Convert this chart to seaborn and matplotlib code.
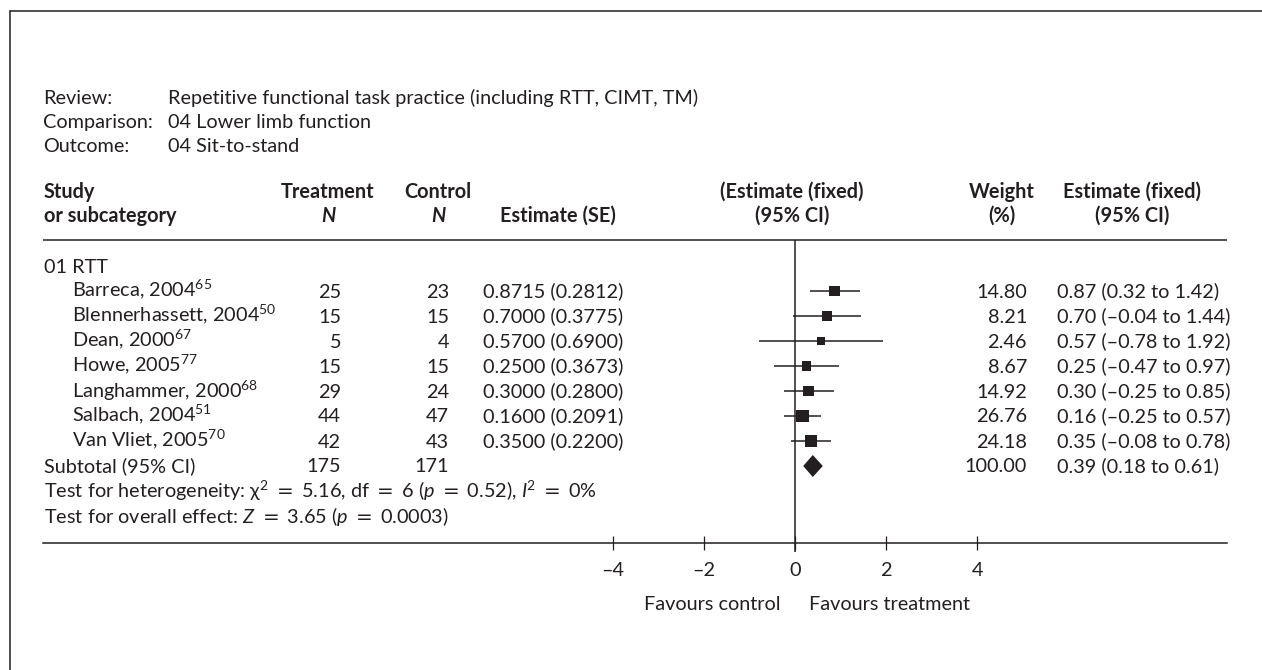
import numpy as np
import pandas as pd
import matplotlib
matplotlib.use("Agg")
import matplotlib.pyplot as plt
from matplotlib.lines import Line2D
import seaborn as sns

# ---------- data ----------
studies = ["Barreca, 2004", "Blennerhassett, 2004", "Dean, 2000", "Howe, 2005",
           "Langhammer, 2000", "Salbach, 2004", "Van Vliet, 2005"]
refs = ["65", "50", "67", "77", "68", "51", "70"]
n_treat = [25, 15, 5, 15, 29, 44, 42]
n_ctrl = [23, 15, 4, 15, 24, 47, 43]
estimate = [0.8715, 0.7000, 0.5700, 0.2500, 0.3000, 0.1600, 0.3500]
se = [0.2812, 0.3775, 0.6900, 0.3673, 0.2800, 0.2091, 0.2200]
weight = [14.80, 8.21, 2.46, 8.67, 14.92, 26.76, 24.18]
ci_low = [0.32, -0.04, -0.78, -0.47, -0.25, -0.25, -0.08]
ci_high = [1.42, 1.44, 1.92, 0.97, 0.85, 0.57, 0.78]

subtotal_n = [175, 171]
subtotal_est = 0.39
subtotal_ci = [0.18, 0.61]
subtotal_weight = 100.00

x_ticks = [-4, -2, 0, 2, 4]
x_tick_labels = ["–4", "–2", "0", "2", "4"]

# ---------- settings ----------
sns.set_theme(style="white")
INK = "#231f20"
FS = 14.3
plt.rcParams["font.family"] = ["Lato", "DejaVu Sans"]
plt.rcParams["mathtext.fontset"] = "custom"
plt.rcParams["mathtext.rm"] = "DejaVu Sans"
plt.rcParams["mathtext.it"] = "Lato:italic"
plt.rcParams["mathtext.bf"] = "Lato:bold"
plt.rcParams["mathtext.default"] = "rm"
plt.rcParams["text.color"] = INK

W, H = 1262, 670
X0_PX, UNIT_PX = 795, 45.6      # pixel of effect 0, pixels per unit
ROW0_PX, ROW_PX = 266, 25       # pixel of first row, row spacing
BASE = 0.26                     # baseline offset (rows)


def fx(px):
    return (px - X0_PX) / UNIT_PX


def fy(px):
    return (px - ROW0_PX) / ROW_PX


fig = plt.figure(figsize=(W / 100, H / 100), dpi=100)
ax = fig.add_axes([0, 0, 1, 1])
ax.set_facecolor("white")

df = pd.DataFrame({
    "study": studies, "estimate": estimate, "weight": weight,
    "lo": ci_low, "hi": ci_high, "row": np.arange(1, len(studies) + 1),
})

# CI lines and squares
ax.hlines(df["row"], df["lo"], df["hi"], color=INK, lw=1.1, zorder=2)
sns.scatterplot(data=df, x="estimate", y="row", size="weight", sizes=(38, 82),
                marker="s", color=INK, edgecolor=INK, linewidth=0,
                legend=False, ax=ax, zorder=3)

# subtotal diamond
sub_row = len(studies) + 1
h = 0.44
ax.fill([subtotal_ci[0], subtotal_est, subtotal_ci[1], subtotal_est],
        [sub_row, sub_row - h, sub_row, sub_row + h], color=INK, lw=0, zorder=3)

# axis geometry
ax.set_xlim(fx(0), fx(W))
ax.set_ylim(fy(H), fy(0))
ax.set_xlabel("")
ax.set_ylabel("")
ax.set_yticks([])
for s in ["top", "left", "right"]:
    ax.spines[s].set_visible(False)
ax.spines["bottom"].set_position(("data", fy(543)))
ax.spines["bottom"].set_bounds(fx(43), fx(1227))
ax.spines["bottom"].set_color(INK)
ax.spines["bottom"].set_linewidth(1.1)
ax.set_xticks(x_ticks)
ax.set_xticklabels(x_tick_labels, fontsize=FS)
ax.tick_params(axis="x", direction="inout", length=10, width=0.9, color=INK,
               pad=8.5, labelcolor=INK, bottom=True)

ax.vlines(0, fy(240), fy(552), color=INK, lw=1.1)
ax.hlines(fy(240), fx(43), fx(1227), color=INK, lw=1.1)

# ---------- text ----------
def put(px_x, px_y, s, ha="left", **kw):
    ax.text(fx(px_x), fy(px_y) + BASE, s, ha=ha, va="baseline", fontsize=FS, **kw)


def sup(s):
    return "$^{\\mathregular{" + s + "}}$"


put(43, 97, "Review:")
put(168, 97, "Repetitive functional task practice (including RTT, CIMT, TM)")
put(43, 121, "Comparison:")
put(168, 121, "04 Lower limb function")
put(43, 145, "Outcome:")
put(168, 145, "04 Sit-to-stand")

bold = dict(fontweight="bold")
put(44, 191, "Study", **bold)
put(44, 215, "or subcategory", **bold)
put(328, 191, "Treatment", ha="center", **bold)
put(328, 215, "N", ha="center", fontstyle="italic", **bold)
put(438, 191, "Control", ha="center", **bold)
put(438, 215, "N", ha="center", fontstyle="italic", **bold)
put(558, 215, "Estimate (SE)", ha="center", **bold)
put(792, 191, "(Estimate (fixed)", ha="center", **bold)
put(792, 215, "(95% CI)", ha="center", **bold)
put(1002, 191, "Weight", ha="center", **bold)
put(1002, 215, "(%)", ha="center", **bold)
put(1132, 191, "Estimate (fixed)", ha="center", **bold)
put(1132, 215, "(95% CI)", ha="center", **bold)


def dash(v, fmt):
    return format(v, fmt).replace("-", "–")


put(44, ROW0_PX, "01 RTT")
for i, name in enumerate(studies):
    py = ROW0_PX + ROW_PX * (i + 1)
    put(72, py, name + sup(refs[i]))
    put(341, py, str(n_treat[i]), ha="right")
    put(449, py, str(n_ctrl[i]), ha="right")
    put(483, py, f"{estimate[i]:.4f} ({se[i]:.4f})")
    put(1027, py, f"{weight[i]:.2f}", ha="right")
    put(1057, py, f"{dash(estimate[i], '.2f')} ({dash(ci_low[i], '.2f')} to {dash(ci_high[i], '.2f')})")

py = ROW0_PX + ROW_PX * sub_row
put(44, py, "Subtotal (95% CI)")
put(341, py, str(subtotal_n[0]), ha="right")
put(449, py, str(subtotal_n[1]), ha="right")
put(1027, py, f"{subtotal_weight:.2f}", ha="right")
put(1057, py, f"{subtotal_est:.2f} ({subtotal_ci[0]:.2f} to {subtotal_ci[1]:.2f})")

put(44, ROW0_PX + ROW_PX * (sub_row + 1),
    "Test for heterogeneity: χ" + sup("2") + r" $=$ 5.16, df $=$ 6 ($\mathit{p}$ $=$ 0.52), $\mathit{I}$"
    + sup("2") + r" $=$ 0%")
put(44, ROW0_PX + ROW_PX * (sub_row + 2),
    r"Test for overall effect: $\mathit{Z}$ $=$ 3.65 ($\mathit{p}$ $=$ 0.0003)")

put(781, 604, "Favours control", ha="right")
put(809, 604, "Favours treatment")

# frame
fig.add_artist(Line2D([10 / W, 10 / W], [0, 1 - 11 / H], transform=fig.transFigure,
                      color=INK, lw=1.1))
fig.add_artist(Line2D([10 / W, 1], [1 - 11 / H, 1 - 11 / H], transform=fig.transFigure,
                      color=INK, lw=1.1))

fig.savefig("out.png", dpi=100, facecolor="white")
